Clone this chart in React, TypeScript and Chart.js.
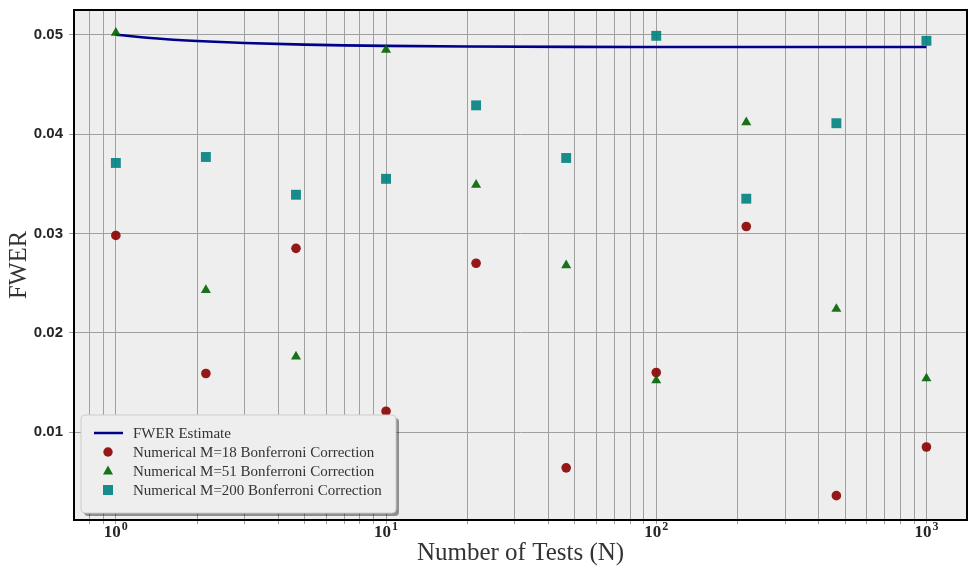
import React, { useEffect, useRef } from "react";
import { Chart, registerables } from "chart.js";

Chart.register(...registerables);

// ---- data ----
const testCounts = [1, 2.154, 4.642, 10, 21.54, 46.42, 100, 215.4, 464.2, 1000];
const m18Values = [0.0298, 0.0159, 0.0285, 0.0121, 0.027, 0.0064, 0.016, 0.0307, 0.0036, 0.0085];
const m51Values = [0.0502, 0.0243, 0.0176, 0.0485, 0.0349, 0.0268, 0.0152, 0.0412, 0.0224, 0.0154];
const m200Values = [0.0371, 0.0377, 0.0339, 0.0355, 0.0429, 0.0376, 0.0499, 0.0335, 0.0411, 0.0494];
const estimateN = [1, 1.5, 2, 3, 5, 7, 10, 20, 50, 100, 200, 500, 1000];
const estimateValues = [0.05, 0.04958, 0.04938, 0.04917, 0.04901, 0.04894, 0.04889, 0.04883, 0.04879, 0.04878, 0.04877, 0.04877, 0.04877];
const seriesLabels = [
  "FWER Estimate",
  "Numerical M=18 Bonferroni Correction",
  "Numerical M=51 Bonferroni Correction",
  "Numerical M=200 Bonferroni Correction",
];
const yTickValues = [0.01, 0.02, 0.03, 0.04, 0.05];
const xGridValues = [
  0.8, 0.9, 1, 2, 3, 4, 5, 6, 7, 8, 9, 10, 20, 30, 40, 50, 60, 70, 80, 90,
  100, 200, 300, 400, 500, 600, 700, 800, 900, 1000,
];
const xLabelValues = [1, 10, 100, 1000];
const xLabelBases = ["10", "10", "10", "10"];
const xLabelExponents = ["0", "1", "2", "3"];
const xLimits = [0.708, 1413];
const yLimits = [0.00115, 0.0525];
const xTitle = "Number of Tests (N)";
const yTitle = "FWER";

const colors = {
  line: "#00008b",
  circle: "rgba(139,0,0,0.9)",
  triangle: "rgba(0,100,0,0.9)",
  square: "rgba(0,128,128,0.9)",
};

const frameAndBg = {
  id: "frameAndBg",
  beforeDraw(chart: any) {
    const { ctx, chartArea: ca } = chart;
    ctx.save();
    ctx.fillStyle = "#ffffff";
    ctx.fillRect(0, 0, chart.width, chart.height);
    ctx.fillStyle = "#eeeeee";
    ctx.fillRect(ca.left, ca.top, ca.right - ca.left, ca.bottom - ca.top);
    ctx.restore();
  },
  afterDraw(chart: any) {
    const { ctx, chartArea: ca } = chart;
    ctx.save();
    ctx.strokeStyle = "#000000";
    ctx.lineWidth = 2;
    ctx.strokeRect(ca.left, ca.top, ca.right - ca.left, ca.bottom - ca.top);
    ctx.restore();

    // x tick labels with superscript exponents, placed by the x scale
    const xs = chart.scales.x;
    ctx.save();
    ctx.fillStyle = "#262626";
    ctx.textBaseline = "alphabetic";
    ctx.textAlign = "left";
    const baseFont = "bold 17px 'Liberation Serif', serif";
    const expFont = "bold 12px 'Liberation Serif', serif";
    xLabelValues.forEach((v, i) => {
      const px = xs.getPixelForValue(v);
      ctx.font = baseFont;
      const bw = ctx.measureText(xLabelBases[i]).width;
      ctx.font = expFont;
      const ew = ctx.measureText(xLabelExponents[i]).width;
      const left = px - (bw + ew + 1) / 2;
      const baseY = ca.bottom + 17;
      ctx.font = baseFont;
      ctx.fillText(xLabelBases[i], left, baseY);
      ctx.font = expFont;
      ctx.fillText(xLabelExponents[i], left + bw + 1, baseY - 7);
    });
    ctx.restore();

    // legend
    const x = ca.left + 7;
    const y = ca.bottom - 105;
    const w = 315;
    const h = 98;
    const rr = (px: number, py: number) => {
      ctx.beginPath();
      if (ctx.roundRect) ctx.roundRect(px, py, w, h, 4);
      else ctx.rect(px, py, w, h);
    };
    ctx.save();
    ctx.fillStyle = "rgba(0,0,0,0.4)";
    rr(x + 3, y + 3);
    ctx.fill();
    ctx.fillStyle = "#eeeeee";
    rr(x, y);
    ctx.fill();
    ctx.strokeStyle = "#cccccc";
    ctx.lineWidth = 1;
    ctx.stroke();

    const ds = chart.data.datasets;
    const rowY = [y + 18, y + 37, y + 56, y + 75];
    const mx = x + 27;
    ctx.font = "15px 'Liberation Serif', serif";
    ctx.textBaseline = "middle";
    ctx.textAlign = "left";
    for (let i = 0; i < 4; i++) {
      const cy = rowY[i];
      if (i === 0) {
        ctx.strokeStyle = colors.line;
        ctx.lineWidth = 2.5;
        ctx.beginPath();
        ctx.moveTo(x + 13, cy);
        ctx.lineTo(x + 42, cy);
        ctx.stroke();
      } else if (i === 1) {
        ctx.fillStyle = colors.circle;
        ctx.beginPath();
        ctx.arc(mx, cy, 4.7, 0, Math.PI * 2);
        ctx.fill();
      } else if (i === 2) {
        ctx.fillStyle = colors.triangle;
        ctx.beginPath();
        ctx.moveTo(mx, cy - 5.5);
        ctx.lineTo(mx + 5, cy + 3.5);
        ctx.lineTo(mx - 5, cy + 3.5);
        ctx.closePath();
        ctx.fill();
      } else {
        ctx.fillStyle = colors.square;
        ctx.fillRect(mx - 5, cy - 5, 10, 10);
      }
      ctx.fillStyle = "#333333";
      ctx.fillText(ds[i].label, x + 52, cy + 1);
    }
    ctx.restore();
  },
};

export default function App() {
  const ref = useRef<HTMLCanvasElement>(null);

  useEffect(() => {
    if (!ref.current) return;
    const chart = new Chart(ref.current, {
      data: {
        datasets: [
          {
            type: "line",
            label: seriesLabels[0],
            data: estimateN.map((n, i) => ({ x: n, y: estimateValues[i] })),
            borderColor: colors.line,
            borderWidth: 2.6,
            pointRadius: 0,
            cubicInterpolationMode: "monotone",
            fill: false,
            order: 4,
          },
          {
            type: "scatter",
            label: seriesLabels[1],
            data: testCounts.map((n, i) => ({ x: n, y: m18Values[i] })),
            backgroundColor: colors.circle,
            borderWidth: 0,
            pointStyle: "circle",
            pointRadius: 4.8,
            order: 3,
          },
          {
            type: "scatter",
            label: seriesLabels[2],
            data: testCounts.map((n, i) => ({ x: n, y: m51Values[i] })),
            backgroundColor: colors.triangle,
            borderWidth: 0,
            pointStyle: "triangle",
            pointRadius: 5.8,
            order: 2,
          },
          {
            type: "scatter",
            label: seriesLabels[3],
            data: testCounts.map((n, i) => ({ x: n, y: m200Values[i] })),
            backgroundColor: colors.square,
            borderWidth: 0,
            pointStyle: "rect",
            pointRadius: 7,
            order: 1,
          },
        ],
      } as any,
      options: {
        animation: false,
        responsive: false,
        devicePixelRatio: 1,
        layout: { padding: { left: 0, right: 11, top: 10, bottom: 0 } },
        plugins: {
          legend: { display: false },
          tooltip: { enabled: false },
        },
        scales: {
          x: {
            type: "logarithmic",
            position: "bottom",
            min: xLimits[0],
            max: xLimits[1],
            afterBuildTicks: (scale: any) => {
              scale.ticks = xGridValues.map((v) => ({ value: v }));
            },
            afterFit: (scale: any) => {
              scale.height = 58;
              scale.paddingLeft = 0;
              scale.paddingRight = 0;
            },
            ticks: {
              autoSkip: false,
              maxRotation: 0,
              minRotation: 0,
              padding: 1,
              callback: () => "",
            },
            grid: {
              color: "#a0a0a0",
              lineWidth: 1,
              drawTicks: true,
              tickLength: 4,
              tickColor: "#a0a0a0",
            },
            border: { display: false },
            title: {
              display: true,
              text: xTitle,
              color: "#333333",
              font: { family: "'Liberation Serif', serif", size: 25 },
              padding: { top: 0, bottom: 10 },
            },
          },
          y: {
            type: "linear",
            min: yLimits[0],
            max: yLimits[1],
            afterBuildTicks: (scale: any) => {
              scale.ticks = yTickValues.map((v) => ({ value: v }));
            },
            afterFit: (scale: any) => {
              scale.width = 74;
              scale.paddingTop = 0;
              scale.paddingBottom = 0;
            },
            ticks: {
              padding: 6,
              color: "#262626",
              font: { family: "'Liberation Sans', sans-serif", size: 15, weight: "bold" },
              callback: (v: any) => Number(v).toFixed(2),
            },
            grid: {
              color: "#a0a0a0",
              lineWidth: 1,
              drawTicks: true,
              tickLength: 5,
              tickColor: "#a0a0a0",
            },
            border: { display: false },
            title: {
              display: true,
              text: yTitle,
              color: "#333333",
              font: { family: "'Liberation Serif', serif", size: 24.5 },
              padding: { top: 5, bottom: 0 },
            },
          },
        },
      } as any,
      plugins: [frameAndBg],
    });
    return () => chart.destroy();
  }, []);

  return (
    <div style={{ position: "fixed", left: 0, top: 0, width: 978, height: 578, background: "#fff" }}>
      <canvas ref={ref} width={978} height={578} style={{ display: "block" }} />
    </div>
  );
}
